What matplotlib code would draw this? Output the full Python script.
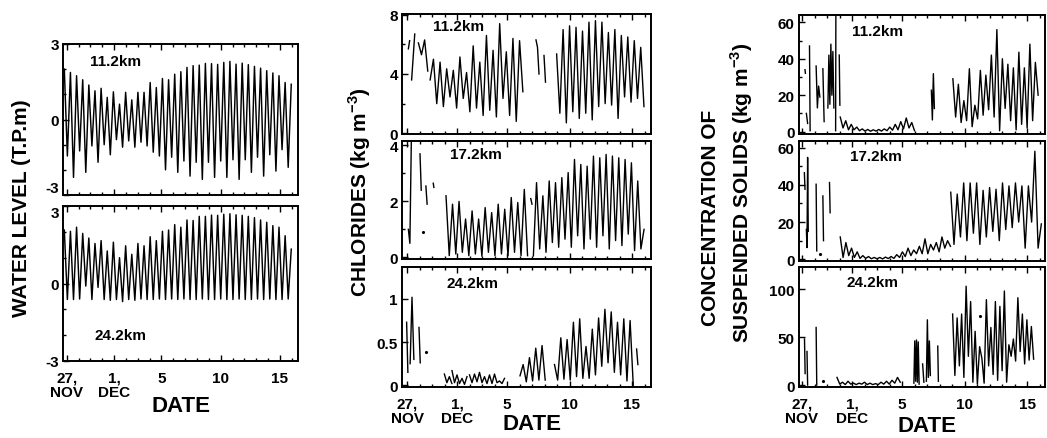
import numpy as np
import matplotlib
matplotlib.use("Agg")
import matplotlib.pyplot as plt
from matplotlib.ticker import MultipleLocator, FixedLocator

plt.rcParams["font.family"] = ["Liberation Sans", "DejaVu Sans"]
plt.rcParams["font.weight"] = "bold"
plt.rcParams["mathtext.fontset"] = "custom"
plt.rcParams["mathtext.rm"] = "Liberation Sans:bold"
plt.rcParams["mathtext.bf"] = "Liberation Sans:bold"

# time axis: days after 27 November
DATE_TICKS = [0, 4, 8, 13, 18]
DATE_LABELS = ["27,\nNOV", "1,\nDEC", "5", "10", "15"]
HALF_TIDE = 0.2588  # days between successive high and low water

# ---- water level (T.P. m), successive high and low waters ----
WL_START = -0.2
WL_11_HIGH = [2.0, 1.87, 1.74, 1.58, 1.37, 1.14, 1.24, 0.88, 1.1, 0.61, 1.08, 0.78, 1.08,
              1.08, 1.47, 1.27, 1.63, 1.58, 1.8, 1.9, 2.07, 2.14, 2.16, 2.23, 2.22, 2.19,
              2.27, 2.31, 2.2, 2.24, 2.18, 2.11, 2.04, 1.94, 1.85, 1.74, 1.47, 1.4]
WL_11_LOW = [-1.45, -2.3, -1.25, -2.1, -1.05, -1.7, -1.0, -1.4, -0.8, -1.1, -0.85, -1.1,
             -0.9, -1.05, -1.3, -1.45, -2.0, -1.5, -2.1, -1.65, -2.25, -1.7, -2.38, -1.7,
             -2.3, -1.65, -2.3, -1.6, -2.38, -1.6, -2.1, -1.5, -2.25, -1.4, -2.05, -1.2, -1.9]
WL_24_HIGH = [2.07, 2.02, 2.18, 1.94, 1.76, 1.55, 1.66, 1.26, 1.6, 1.0, 1.46, 1.13, 1.55,
              1.46, 1.81, 1.66, 2.02, 2.07, 2.28, 2.18, 2.46, 2.44, 2.6, 2.6, 2.65, 2.64,
              2.68, 2.7, 2.66, 2.64, 2.6, 2.55, 2.46, 2.37, 2.24, 2.18, 1.85, 1.33]
WL_24_LOW = [-0.62, -0.62, -0.6, -0.1, -0.62, -0.15, -0.62, -0.65, -0.62, -0.7, -0.62,
             -0.65, -0.6, -0.62, -0.62, -0.6, -0.62, -0.6, -0.62, -0.6, -0.62, -0.62,
             -0.6, -0.62, -0.62, -0.6, -0.62, -0.62, -0.6, -0.62, -0.62, -0.6, -0.62,
             -0.6, -0.62, -0.62, -0.6]

# ---- chlorides (kg m^-3): (start day, sampling step in days, readings) ----
CL_11 = [
    (0.11, 0.10, [5.7, 6.25]),
    (0.37, 0.25, [3.6, 6.7]),
    (0.91, 0.25, [6.1, 5.3, 6.3, 4.2]),
    (1.85, 0.265, [3.6, 5.0, 2.0, 4.8, 1.8, 4.35, 2.45, 4.25, 1.7, 5.15, 2.35, 4.1, 1.45,
                   5.9, 1.7, 4.8, 1.2, 6.6, 1.55, 5.6, 1.1, 7.4, 2.35, 5.5, 1.2, 6.4, 0.8,
                   6.25, 2.8]),
    (10.32, 0.12, [6.3, 5.8, 4.0]),
    (10.96, 0.12, [5.25, 3.45]),
    (11.97, HALF_TIDE, [5.35, 1.35, 7.0, 0.7, 7.25, 1.45, 7.15, 1.0, 6.9, 1.35, 7.5, 0.9,
                        7.6, 1.8, 7.5, 2.0, 6.8, 1.9, 7.0, 1.0, 6.6, 2.45, 6.5, 2.1, 6.25,
                        2.35, 5.8, 1.8]),
]
CL_17 = [
    (0.11, 0.12, [1.0, 0.5, 4.3]),
    (1.04, 0.10, [3.7, 2.4]),
    (1.31, 0.0, [0.9]),
    (1.51, 0.10, [2.55, 1.9]),
    (2.10, 0.05, [2.65, 2.5]),
    (3.12, 0.261, [2.2, 0.06, 1.9, 0.12, 2.0, 0.18, 1.37, 0.06, 1.66, 0.12, 1.37, 0.04,
                   1.78, 0.18, 1.6, 0.06, 1.9, 0.12, 1.72, 0.06, 2.14, 0.18, 1.96, 0.06,
                   2.43, 0.06]),
    (9.90, 0.10, [2.1, 1.9]),
    (10.11, 0.253, [0.05, 2.67, 0.3, 2.2, 0.18, 2.73, 0.53, 2.67, 0.36, 2.85, 0.65, 3.03,
                    0.36, 3.5, 0.77, 3.32, 0.3, 3.26, 0.65, 3.62, 0.36, 3.56, 0.77, 3.68,
                    0.3, 3.62, 0.6, 3.56, 0.42, 3.5, 0.83, 3.38, 0.24, 2.73, 0.3, 1.0]),
]
CL_24 = [
    (-0.03, 0.10, [0.73, 0.15]),
    (0.25, 0.15, [0.25, 1.02, 0.3]),
    (0.96, 0.10, [0.67, 0.26]),
    (1.51, 0.0, [0.39]),
    (2.99, 0.20, [0.13, 0.03, 0.1, 0.02]),
    (3.60, 0.20, [0.17, 0.03, 0.12, 0.02, 0.08, 0.01, 0.1]),
    (5.00, 0.20, [0.12, 0.03, 0.13, 0.04, 0.15, 0.03, 0.1, 0.02, 0.12, 0.02, 0.13, 0.03,
                  0.05, 0.02, 0.08]),
    (9.04, 0.252, [0.11, 0.24, 0.04, 0.32, 0.05, 0.43, 0.06, 0.46, 0.06]),
    (11.80, 0.252, [0.24, 0.06, 0.55, 0.07, 0.53, 0.06, 0.73, 0.1, 0.77, 0.08, 0.45, 0.08,
                    0.65, 0.12, 0.78, 0.22, 0.88, 0.26, 0.85, 0.15, 0.73, 0.12, 0.77, 0.05,
                    0.75, 0.0]),
    (18.37, 0.10, [0.42, 0.24]),
]

# ---- suspended solids (kg m^-3) ----
SS_11 = [
    (0.24, 0.03, [34, 32]),
    (0.35, 0.10, [10, 4.5]),
    (0.60, 0.05, [47, 0.5]),
    (1.13, 0.10, [36, 13, 25, 19]),
    (1.67, 0.10, [34.5, 5.5]),
    (2.07, 0.08, [13, 42, 15, 48, 20, 44, 13]),
    (2.69, 0.02, [0.5, 66]),
    (2.98, 0.05, [42, 14.5]),
    (3.06, 0.22, [8, 2, 6, 1, 4, 1, 2.5, 0.5, 1.5, 0.3, 1.2, 0.2, 1, 0.3, 1.2, 0.3, 1.5,
                  0.5, 2.5, 0.8, 4, 1, 5.5, 1.5, 7.5, 2, 5, 0.5]),
    (10.35, 0.08, [22.7, 6.4, 31.8, 12.7]),
    (12.07, 0.22, [29, 8, 26, 5, 17, 6, 34.5, 2.7, 14.5, 7, 33.6, 9, 31, 12, 42, 8, 56,
                   0.5, 40, 12.7, 37, 6, 35, 1, 43.6, 4, 35, 2, 48, 6, 38, 20]),
]
SS_17 = [
    (0.19, 0.05, [46.5, 37.6]),
    (0.35, 0.05, [16, 6.3, 54.7, 15]),
    (1.13, 0.05, [40.3, 4.5]),
    (1.40, 0.0, [2.7]),
    (1.67, 0.05, [34, 10]),
    (2.20, 0.05, [41.2, 25]),
    (3.06, 0.226, [12, 1, 9, 2, 6, 1, 4, 0.5, 2, 0.5, 1.5, 0.3, 1, 0.3, 1, 0.2, 1.2, 0.4,
                   1.5, 0.5, 2.5, 1, 4, 1.5, 6, 2, 5, 3, 7, 3, 11, 3, 8, 5, 9, 4, 12, 6,
                   10, 7]),
    (11.90, HALF_TIDE, [36, 8, 35, 12, 41, 10, 41, 14, 41, 8, 37, 12, 38.5, 15, 37.6, 10,
                        41, 16, 39.4, 17, 41, 20, 39.4, 6, 39.4, 20, 58, 6, 19]),
]
SS_24 = [
    (0.20, 0.05, [48, 12]),
    (0.40, 0.05, [35, 0]),
    (1.13, 0.05, [60, 0]),
    (1.67, 0.0, [4.5]),
    (2.80, 0.22, [8, 1, 3, 0.5, 4, 1, 2, 0.5, 2, 1, 3, 0.5, 2, 0.5, 1.5, 0.5, 3, 1, 4, 1,
                  5, 2, 8, 3]),
    (8.95, 0.07, [2, 46, 4, 47, 3, 45, 1]),
    (9.65, 0.10, [22, 3]),
    (9.95, 0.08, [4, 68, 8, 46, 10]),
    (10.86, 0.05, [40.6, 4]),
    (12.05, 0.18, [74, 10, 70, 20, 74, 8, 103, 30, 87, 3, 56, 1, 40, 28, 2, 89, 20, 60,
                   11, 87, 5, 82, 15, 98, 3, 42, 30, 48, 25, 91, 35, 74, 22, 68, 26, 61,
                   27]),
    (14.20, 0.0, [72]),
]

W, H = 1047, 439
fig = plt.figure(figsize=(W / 100, H / 100), dpi=100)


def panel(x0, x1, y0, y1):
    return fig.add_axes([x0 / W, 1 - y1 / H, (x1 - x0) / W, (y1 - y0) / H])


def style(ax, xlim, ylim, yticks, ylabels, yminor, show_dates, station, spos):
    ax.set_xlim(*xlim)
    ax.set_ylim(*ylim)
    ax.xaxis.set_major_locator(FixedLocator(DATE_TICKS))
    ax.xaxis.set_minor_locator(MultipleLocator(1))
    ax.set_yticks(yticks)
    ax.set_yticklabels(ylabels)
    if yminor:
        ax.yaxis.set_minor_locator(MultipleLocator(yminor))
    if show_dates:
        ax.set_xticklabels(DATE_LABELS, fontsize=11, fontweight="bold", linespacing=1.05,
                           multialignment="center")
    else:
        ax.set_xticklabels([])
    ax.tick_params(which="both", direction="in", top=True, width=1.0)
    ax.tick_params(which="major", length=4, labelsize=11)
    ax.tick_params(axis="x", which="major", pad=7)
    ax.tick_params(axis="y", which="major", pad=3)
    ax.tick_params(which="minor", length=2.5)
    for s in ax.spines.values():
        s.set_linewidth(1.4)
    ax.text(spos[0], spos[1], station, transform=ax.transAxes, fontsize=11,
            fontweight="bold", va="center", ha="left")


def draw_tide(ax, highs, lows):
    vals = np.empty(len(highs) + len(lows))
    vals[0::2] = highs
    vals[1::2] = lows
    t = WL_START + HALF_TIDE * np.arange(len(vals))
    ax.plot(t, vals, color="k", lw=1.05)


def draw_segments(ax, segments):
    for start, step, vals in segments:
        t = start + step * np.arange(len(vals))
        if len(vals) == 1:
            ax.plot(t, vals, "k.", ms=2.5)
        else:
            ax.plot(t, vals, color="k", lw=1.0)


# water level column
XL_L = (-0.31, 19.52)
top_wl = panel(63, 298, 45, 196)
draw_tide(top_wl, WL_11_HIGH, WL_11_LOW)
style(top_wl, XL_L, (-3, 3), [-3, 0, 3], ["-3", "0", "3"], 1, False, "11.2km",
      (0.115, 0.89))
top_wl.get_yticklabels()[0].set_verticalalignment("bottom")
bot_wl = panel(63, 298, 207, 362)
draw_tide(bot_wl, WL_24_HIGH, WL_24_LOW)
style(bot_wl, XL_L, (-3, 3), [-3, 0, 3], ["-3", "0", "3"], 1, True, "24.2km",
      (0.136, 0.165))
bot_wl.get_yticklabels()[2].set_verticalalignment("top")

# chloride column
XL_M = (-0.4, 19.52)
a = panel(402, 651, 15, 135)
draw_segments(a, CL_11)
style(a, XL_M, (-0.05, 8.05), [0, 4, 8], ["0", "4", "8"], 2, False, "11.2km", (0.125, 0.9))
a = panel(402, 651, 142, 260)
draw_segments(a, CL_17)
style(a, XL_M, (-0.06, 4.16), [0, 2, 4], ["0", "2", "4"], 1, False, "17.2km", (0.193, 0.887))
a = panel(402, 651, 268, 388)
draw_segments(a, CL_24)
style(a, XL_M, (-0.02, 1.37), [0, 0.5, 1], ["0", "0.5", "1"], None, True, "24.2km",
      (0.18, 0.865))

# suspended solids column
XL_R = (-0.24, 19.44)
a = panel(799, 1045, 16, 135)
draw_segments(a, SS_11)
style(a, XL_R, (-1.3, 64), [0, 20, 40, 60], ["0", "20", "40", "60"], 10, False, "11.2km",
      (0.214, 0.867))
a = panel(799, 1045, 142, 262)
draw_segments(a, SS_17)
style(a, XL_R, (-0.9, 63.5), [0, 20, 40, 60], ["0", "20", "40", "60"], 10, False, "17.2km",
      (0.207, 0.875))
a = panel(799, 1045, 268, 388)
draw_segments(a, SS_24)
style(a, XL_R, (-2, 123), [0, 50, 100], ["0", "50", "100"], None, True, "24.2km",
      (0.194, 0.873))

# axis titles
fig.text(22 / W, 1 - 208 / H, "WATER LEVEL (T.P.m)", rotation=90, fontsize=15,
         fontweight="bold", ha="center", va="center")
fig.text(360 / W, 1 - 192 / H, r"CHLORIDES (kg m$^{\mathbf{-3}}$)", rotation=90,
         fontsize=15, fontweight="bold", ha="center", va="center")
fig.text(711 / W, 1 - 218 / H, "CONCENTRATION OF", rotation=90, fontsize=15,
         fontweight="bold", ha="center", va="center")
fig.text(742 / W, 1 - 193 / H, r"SUSPENDED SOLIDS (kg m$^{\mathbf{-3}}$)", rotation=90,
         fontsize=15, fontweight="bold", ha="center", va="center")
for xc, yc in [(181, 407), (532, 425), (927, 427)]:
    fig.text(xc / W, 1 - yc / H, "DATE", fontsize=16, fontweight="bold",
             ha="center", va="center")

fig.savefig("out.png", dpi=100, facecolor="white")
